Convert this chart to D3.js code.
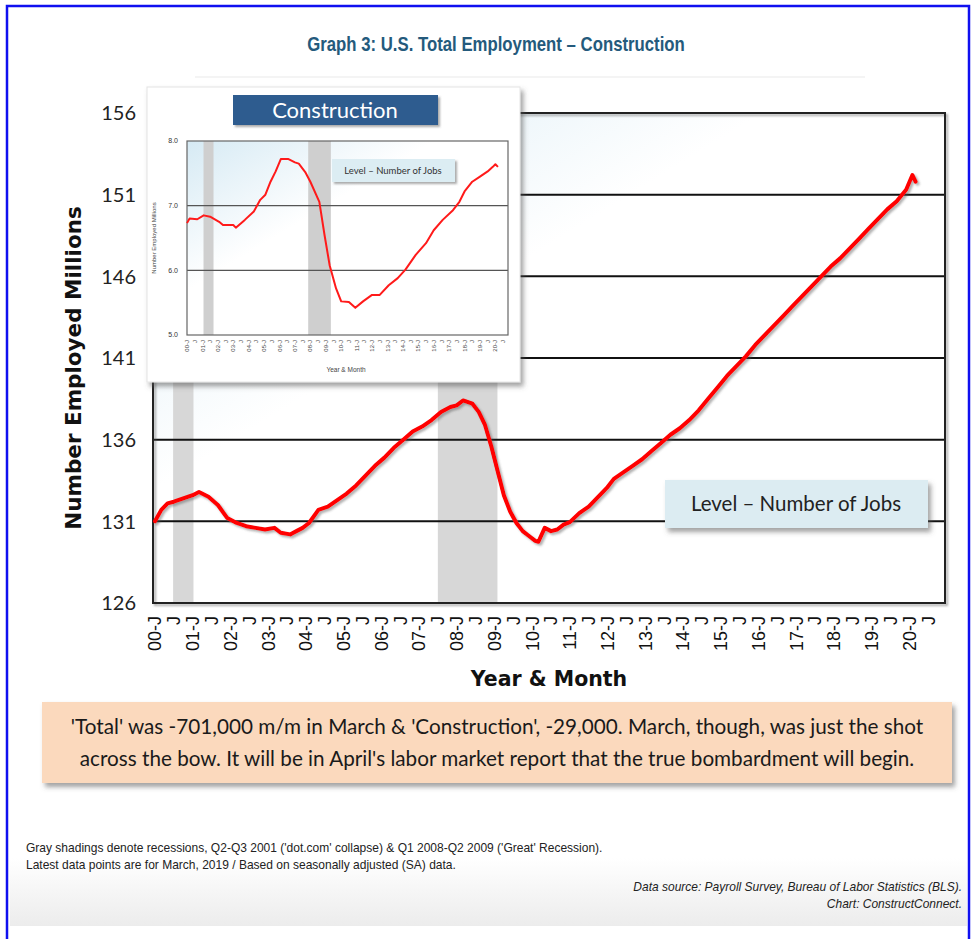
<!DOCTYPE html>
<html>
<head>
<meta charset="utf-8">
<script src="https://cdn.jsdelivr.net/npm/d3@7"></script>
<style>
  html, body { margin: 0; padding: 0; background: #fff; }
  svg { display: block; }
</style>
</head>
<body>
<svg id="chart" width="974" height="939"></svg>
<script>
// ---------------- DATA ----------------
// Main chart: U.S. total nonfarm employment (millions)
const totalDates = ["2000-01","2000-03","2000-05","2000-07","2000-10","2001-01","2001-03","2001-06","2001-09","2001-12",
  "2002-03","2002-06","2002-09","2002-12","2003-03","2003-05","2003-08","2003-10","2003-12","2004-02","2004-05",
  "2004-08","2004-11","2005-02","2005-05","2005-08","2005-11","2006-02","2006-05","2006-08","2006-11","2007-02",
  "2007-05","2007-08","2007-11","2008-01","2008-03","2008-06","2008-08","2008-10","2008-12","2009-02","2009-04",
  "2009-06","2009-08","2009-10","2009-12","2010-02","2010-03","2010-05","2010-07","2010-09","2010-11","2011-01",
  "2011-04","2011-07","2011-10","2012-01","2012-03","2012-06","2012-09","2012-12","2013-03","2013-06","2013-09",
  "2013-12","2014-03","2014-06","2014-09","2014-12","2015-03","2015-06","2015-09","2015-12","2016-03","2016-06",
  "2016-09","2016-12","2017-03","2017-06","2017-09","2017-12","2018-03","2018-06","2018-09","2018-12","2019-03",
  "2019-06","2019-09","2019-12","2020-02","2020-03"];
const totalValues = [131.0,131.7,132.1,132.2,132.4,132.6,132.8,132.5,132.0,131.2,
  130.9,130.7,130.6,130.5,130.6,130.3,130.2,130.4,130.6,130.9,131.7,
  131.9,132.3,132.7,133.2,133.8,134.4,134.9,135.5,136.0,136.5,136.8,
  137.2,137.7,138.0,138.1,138.4,138.2,137.7,136.9,135.6,134.1,132.6,
  131.6,130.9,130.4,130.1,129.8,129.75,130.6,130.4,130.5,130.8,130.95,
  131.5,131.9,132.5,133.1,133.6,134.0,134.4,134.8,135.3,135.8,136.3,
  136.7,137.2,137.8,138.5,139.2,139.9,140.5,141.1,141.8,142.4,143.0,
  143.6,144.2,144.8,145.4,146.0,146.6,147.1,147.7,148.3,148.9,149.5,
  150.1,150.6,151.3,152.2,151.8];

// Inset: construction employment (millions)
const constrDates = ["2000-01","2000-03","2000-09","2001-02","2001-07","2002-02","2002-05","2003-01","2003-03","2003-10",
  "2004-05","2004-10","2005-02","2005-06","2005-10","2006-02","2006-08","2007-01","2007-04","2007-09","2008-01",
  "2008-08","2008-12","2009-04","2009-09","2010-01","2010-07","2010-12","2011-06","2012-01","2012-07","2013-02",
  "2013-09","2014-03","2014-11","2015-07","2016-01","2016-08","2017-04","2017-09","2018-01","2018-07","2019-01",
  "2019-07","2019-11","2020-01","2020-03"];
const constrValues = [6.73,6.80,6.79,6.85,6.83,6.75,6.70,6.70,6.66,6.78,
  6.91,7.09,7.17,7.37,7.53,7.72,7.72,7.67,7.65,7.52,7.37,
  7.06,6.55,6.08,5.72,5.52,5.51,5.42,5.52,5.62,5.62,5.77,
  5.88,6.01,6.24,6.42,6.62,6.78,6.93,7.06,7.22,7.37,7.45,
  7.53,7.60,7.64,7.60];

// Recession shadings as drawn (decimal years)
const mainRecessions = [[2000.48, 2001.02], [2007.5, 2009.08]];
const insetRecessions = [[2001.07, 2001.72], [2007.86, 2009.33]];

const mainYTicks = [126, 131, 136, 141, 146, 151, 156];
const mainGridTicks = [131, 136, 141, 146, 151];
const insetYTicks = [5.0, 6.0, 7.0, 8.0];
const insetGridTicks = [6.0, 7.0];
const yearLabels = ["00","01","02","03","04","05","06","07","08","09","10",
  "11","12","13","14","15","16","17","18","19","20"];

const titleText = "Graph 3: U.S. Total Employment \u2013 Construction";
const yAxisTitle = "Number Employed Millions";
const xAxisTitle = "Year & Month";
const legendText = "Level \u2013 Number of Jobs";
const insetHeader = "Construction";
const calloutLines = [
  "'Total' was -701,000 m/m in March & 'Construction', -29,000. March, though, was just the shot",
  "across the bow. It will be in April's labor market report that the true bombardment will begin."
];
const noteLines = [
  "Gray shadings denote recessions, Q2-Q3 2001 ('dot.com' collapse) & Q1 2008-Q2 2009 ('Great' Recession).",
  "Latest data points are for March, 2019 / Based on seasonally adjusted (SA) data."
];
const sourceLines = [
  "Data source: Payroll Survey, Bureau of Labor Statistics (BLS).",
  "Chart: ConstructConnect."
];

// ---------------- HELPERS ----------------
const toYear = s => { const [y, m] = s.split("-").map(Number); return y + (m - 1) / 12; };
const totalData = totalDates.map((d, i) => ({ t: toYear(d), v: totalValues[i] }));
const constrData = constrDates.map((d, i) => ({ t: toYear(d), v: constrValues[i] }));

const xTicks = [];
yearLabels.forEach((yl, i) => {
  xTicks.push({ t: 2000 + i, label: yl + "-J" });
  xTicks.push({ t: 2000 + i + 0.5, label: "J" });
});

const svg = d3.select("#chart");
const defs = svg.append("defs");

function shadowFilter(id, dx, dy, sd, op) {
  const f = defs.append("filter").attr("id", id)
    .attr("x", "-20%").attr("y", "-20%").attr("width", "140%").attr("height", "140%");
  f.append("feDropShadow").attr("dx", dx).attr("dy", dy).attr("stdDeviation", sd)
    .attr("flood-color", "#555").attr("flood-opacity", op);
}
shadowFilter("boxShadow", 3, 4, 2.5, 0.55);
shadowFilter("smallShadow", 2, 2, 1.2, 0.5);
shadowFilter("lineShadow", 2, 2, 1, 0.45);

function bgGradient(id) {
  const g = defs.append("linearGradient").attr("id", id)
    .attr("x1", "0%").attr("y1", "0%").attr("x2", "70%").attr("y2", "70%");
  g.append("stop").attr("offset", "0%").attr("stop-color", "#d6eaf4");
  g.append("stop").attr("offset", "55%").attr("stop-color", "#ffffff");
  g.append("stop").attr("offset", "100%").attr("stop-color", "#ffffff");
}
bgGradient("plotBg");
bgGradient("insetBg");

const foot = defs.append("linearGradient").attr("id", "footBg")
  .attr("x1", "0").attr("y1", "0").attr("x2", "0").attr("y2", "1");
foot.append("stop").attr("offset", "0%").attr("stop-color", "#ffffff");
foot.append("stop").attr("offset", "100%").attr("stop-color", "#ececec");

// Horizontally condense a group of text lines so the first one spans `target` px
function condense(sel, anchorX, target) {
  const w = sel.node().getComputedTextLength();
  const k = target / w;
  sel.attr("transform", `translate(${anchorX},0) scale(${k},1) translate(${-anchorX},0)`);
  return k;
}

// ---------------- PAGE FRAME ----------------
svg.append("rect").attr("x", 0).attr("y", 0).attr("width", 974).attr("height", 939).attr("fill", "#fff");
svg.append("rect").attr("x", 10).attr("y", 858).attr("width", 957).attr("height", 68).attr("fill", "url(#footBg)");

// title (condensed face)
const title = svg.append("text").attr("x", 496).attr("y", 51)
  .attr("text-anchor", "middle")
  .attr("font-family", "'Liberation Sans', Arial, sans-serif")
  .attr("font-weight", "bold").attr("font-size", 20)
  .attr("fill", "#245a7c").text(titleText);
condense(title, 496, 378);
svg.append("line").attr("x1", 195).attr("x2", 865).attr("y1", 77).attr("y2", 77)
  .attr("stroke", "#f0f0f0").attr("stroke-width", 1.5);

// ---------------- MAIN PLOT ----------------
const M = { left: 153, right: 945, top: 113, bottom: 603 };
const x = d3.scaleLinear().domain([2000, 2021]).range([155, 947]);
const y = d3.scaleLinear().domain([126, 156]).range([M.bottom, M.top]);

const plot = svg.append("g");
plot.append("rect").attr("x", M.left).attr("y", M.top)
  .attr("width", M.right - M.left).attr("height", M.bottom - M.top)
  .attr("fill", "url(#plotBg)");

plot.selectAll("rect.rec").data(mainRecessions).join("rect").attr("class", "rec")
  .attr("x", d => x(d[0])).attr("width", d => x(d[1]) - x(d[0]))
  .attr("y", M.top).attr("height", M.bottom - M.top)
  .attr("fill", "#d7d7d7");

plot.selectAll("line.grid").data(mainGridTicks).join("line").attr("class", "grid")
  .attr("x1", M.left).attr("x2", M.right)
  .attr("y1", d => y(d)).attr("y2", d => y(d))
  .attr("stroke", "#111").attr("stroke-width", 2);

plot.append("rect").attr("x", M.left).attr("y", M.top)
  .attr("width", M.right - M.left).attr("height", M.bottom - M.top)
  .attr("fill", "none").attr("stroke", "#222").attr("stroke-width", 2)
  .attr("filter", "url(#smallShadow)");

plot.selectAll("text.ytick").data(mainYTicks).join("text").attr("class", "ytick")
  .attr("x", 136).attr("y", d => y(d)).attr("dy", "0.36em")
  .attr("text-anchor", "end")
  .attr("font-family", "Lato, 'DejaVu Sans', sans-serif").attr("font-size", 20)
  .attr("fill", "#222").text(d => d);

plot.selectAll("text.xtick").data(xTicks).join("text").attr("class", "xtick")
  .attr("transform", d => `translate(${x(d.t)},${M.bottom + 13}) rotate(-90)`)
  .attr("dy", "0.36em").attr("text-anchor", "end")
  .attr("font-family", "'Liberation Sans', Arial, sans-serif").attr("font-size", 18)
  .attr("fill", "#111").text(d => d.label);

plot.append("text").attr("transform", "translate(81,368) rotate(-90)")
  .attr("text-anchor", "middle")
  .attr("font-family", "'DejaVu Sans', Lato, sans-serif").attr("font-weight", "bold")
  .attr("font-size", 21.5).attr("fill", "#111").text(yAxisTitle);
plot.append("text").attr("x", 549).attr("y", 686).attr("text-anchor", "middle")
  .attr("font-family", "'DejaVu Sans', Lato, sans-serif").attr("font-weight", "bold")
  .attr("font-size", 20.5).attr("fill", "#111").text(xAxisTitle);

const line = d3.line().x(d => x(d.t)).y(d => y(d.v)).curve(d3.curveLinear);
plot.append("path").datum(totalData).attr("d", line)
  .attr("fill", "none").attr("stroke", "#ff0000").attr("stroke-width", 4)
  .attr("stroke-linejoin", "round").attr("stroke-linecap", "round")
  .attr("filter", "url(#lineShadow)");

const lg = plot.append("g");
lg.append("rect").attr("x", 665).attr("y", 480).attr("width", 263).attr("height", 48)
  .attr("fill", "#dcecf2").attr("filter", "url(#boxShadow)");
lg.append("text").attr("x", 796).attr("y", 504).attr("dy", "0.35em").attr("text-anchor", "middle")
  .attr("font-family", "Lato, 'Open Sans', sans-serif").attr("font-size", 20.5)
  .attr("fill", "#222").text(legendText);

// ---------------- INSET ----------------
const inset = svg.append("g");
inset.append("rect").attr("x", 147).attr("y", 87).attr("width", 373).attr("height", 295)
  .attr("fill", "#fff").attr("stroke", "#e4e4e4").attr("stroke-width", 1)
  .attr("filter", "url(#boxShadow)");

const I = { left: 187, right: 508, top: 141, bottom: 335 };
const xi = d3.scaleLinear().domain([2000, 2021]).range([187, 510.8]);
const yi = d3.scaleLinear().domain([5, 8]).range([I.bottom, I.top]);

inset.append("rect").attr("x", I.left).attr("y", I.top)
  .attr("width", I.right - I.left).attr("height", I.bottom - I.top)
  .attr("fill", "url(#insetBg)");
inset.selectAll("rect.irec").data(insetRecessions).join("rect").attr("class", "irec")
  .attr("x", d => xi(d[0])).attr("width", d => xi(d[1]) - xi(d[0]))
  .attr("y", I.top).attr("height", I.bottom - I.top).attr("fill", "#cfcfcf");
inset.selectAll("line.igrid").data(insetGridTicks).join("line").attr("class", "igrid")
  .attr("x1", I.left).attr("x2", I.right)
  .attr("y1", d => yi(d)).attr("y2", d => yi(d))
  .attr("stroke", "#555").attr("stroke-width", 1.2);
inset.append("rect").attr("x", I.left).attr("y", I.top)
  .attr("width", I.right - I.left).attr("height", I.bottom - I.top)
  .attr("fill", "none").attr("stroke", "#666").attr("stroke-width", 1.2);

inset.selectAll("text.iytick").data(insetYTicks).join("text").attr("class", "iytick")
  .attr("x", 178).attr("y", d => yi(d)).attr("dy", "0.35em").attr("text-anchor", "end")
  .attr("font-family", "'Liberation Sans', Arial, sans-serif").attr("font-size", 7)
  .attr("fill", "#333").text(d => d.toFixed(1));
inset.selectAll("text.ixtick").data(xTicks).join("text").attr("class", "ixtick")
  .attr("transform", d => `translate(${xi(d.t)},${I.bottom + 5}) rotate(-90)`)
  .attr("dy", "0.35em").attr("text-anchor", "end")
  .attr("font-family", "'Liberation Sans', Arial, sans-serif").attr("font-size", 6)
  .attr("fill", "#444").text(d => d.label);
inset.append("text").attr("transform", "translate(156,238) rotate(-90)")
  .attr("text-anchor", "middle").attr("font-family", "'Liberation Sans', Arial, sans-serif")
  .attr("font-size", 6).attr("fill", "#444").text(yAxisTitle);
inset.append("text").attr("x", 346).attr("y", 372).attr("text-anchor", "middle")
  .attr("font-family", "'Liberation Sans', Arial, sans-serif")
  .attr("font-size", 6.5).attr("fill", "#444").text(xAxisTitle);

const lineI = d3.line().x(d => xi(d.t)).y(d => yi(d.v)).curve(d3.curveLinear);
inset.append("path").datum(constrData).attr("d", lineI)
  .attr("fill", "none").attr("stroke", "#ff1a1a").attr("stroke-width", 2)
  .attr("stroke-linejoin", "round");

inset.append("rect").attr("x", 332).attr("y", 159).attr("width", 123).attr("height", 23)
  .attr("fill", "#dcedf3").attr("filter", "url(#smallShadow)");
inset.append("text").attr("x", 393).attr("y", 170.5).attr("dy", "0.35em").attr("text-anchor", "middle")
  .attr("font-family", "Lato, 'Open Sans', sans-serif").attr("font-size", 9.5)
  .attr("fill", "#333").text(legendText);

inset.append("rect").attr("x", 233).attr("y", 95).attr("width", 205).attr("height", 30)
  .attr("fill", "#2f5b8f").attr("filter", "url(#smallShadow)");
inset.append("text").attr("x", 335).attr("y", 110).attr("dy", "0.35em").attr("text-anchor", "middle")
  .attr("font-family", "Lato, 'Open Sans', sans-serif").attr("font-size", 22)
  .attr("fill", "#fff").text(insetHeader);

// ---------------- CALLOUT ----------------
svg.append("rect").attr("x", 42).attr("y", 702).attr("width", 910).attr("height", 81)
  .attr("fill", "#fbd9bd").attr("filter", "url(#boxShadow)");
const callout = svg.selectAll("text.callout").data(calloutLines).join("text").attr("class", "callout")
  .attr("x", 497).attr("y", (d, i) => 727 + i * 32).attr("dy", "0.35em")
  .attr("text-anchor", "middle")
  .attr("font-family", "Lato, 'Open Sans', sans-serif").attr("font-size", 20.7)
  .attr("fill", "#1a1a1a").text(d => d);
{
  const w = callout.node().getComputedTextLength();
  callout.attr("transform", `translate(497,0) scale(${852 / w},1) translate(-497,0)`);
}

// ---------------- NOTES ----------------
const notes = svg.selectAll("text.note").data(noteLines).join("text").attr("class", "note")
  .attr("x", 26).attr("y", (d, i) => 852 + i * 17)
  .attr("font-family", "'Liberation Sans', Arial, sans-serif").attr("font-size", 12.5)
  .attr("fill", "#222").text(d => d);
{
  const w = notes.node().getComputedTextLength();
  notes.attr("transform", `translate(26,0) scale(${577 / w},1) translate(-26,0)`);
}
const srcs = svg.selectAll("text.src").data(sourceLines).join("text").attr("class", "src")
  .attr("x", 962).attr("y", (d, i) => 891 + i * 17).attr("text-anchor", "end")
  .attr("font-family", "'Liberation Sans', Arial, sans-serif").attr("font-style", "italic")
  .attr("font-size", 12.5).attr("fill", "#222").text(d => d);
{
  const w = srcs.node().getComputedTextLength();
  srcs.attr("transform", `translate(962,0) scale(${329 / w},1) translate(-962,0)`);
}

// blue page border
svg.append("rect").attr("x", 7).attr("y", 6).attr("width", 962).attr("height", 945)
  .attr("fill", "none").attr("stroke", "#1010f0").attr("stroke-width", 2.5);
</script>
</body>
</html>
